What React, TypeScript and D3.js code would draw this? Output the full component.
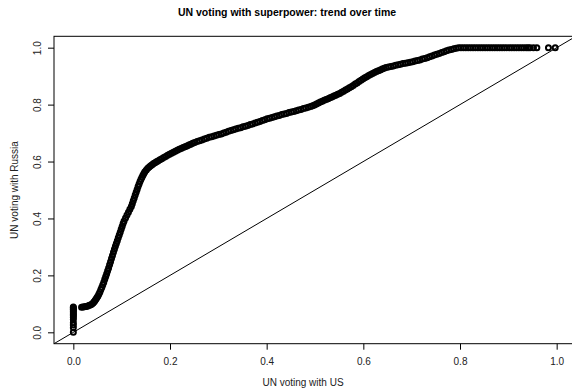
import { useRef, useEffect } from "react";
import * as d3 from "d3";

// share of votes agreeing with each superpower
const zeroUsRussia = [0, 0.016, 0.026, 0.034, 0.045, 0.052, 0.058, 0.063, 0.068, 0.073, 0.078, 0.082, 0.086, 0.089];

const trendPoints: [number, number][] = [
  [0.017, 0.088], [0.02, 0.089], [0.023, 0.09], [0.026, 0.091], [0.029, 0.092], [0.032, 0.094], [0.035, 0.096],
  [0.038, 0.099], [0.041, 0.103], [0.043, 0.107], [0.045, 0.112], [0.047, 0.117], [0.049, 0.122], [0.051, 0.128],
  [0.053, 0.135], [0.055, 0.142], [0.057, 0.15], [0.059, 0.158], [0.061, 0.167], [0.063, 0.176], [0.065, 0.186],
  [0.067, 0.196], [0.069, 0.206], [0.071, 0.216], [0.073, 0.226], [0.075, 0.237], [0.077, 0.248], [0.079, 0.259],
  [0.081, 0.27], [0.083, 0.281], [0.085, 0.292], [0.087, 0.302], [0.089, 0.312], [0.091, 0.322], [0.093, 0.332],
  [0.095, 0.342], [0.097, 0.352], [0.099, 0.362], [0.101, 0.372], [0.103, 0.382], [0.105, 0.391], [0.108, 0.402],
  [0.111, 0.412], [0.114, 0.422], [0.117, 0.432], [0.12, 0.442], [0.122, 0.452], [0.124, 0.462], [0.126, 0.472],
  [0.128, 0.482], [0.13, 0.492], [0.132, 0.502], [0.134, 0.512], [0.136, 0.521], [0.138, 0.53], [0.14, 0.538],
  [0.142, 0.545], [0.144, 0.552], [0.146, 0.558], [0.148, 0.564], [0.151, 0.57], [0.154, 0.576], [0.157, 0.581],
  [0.16, 0.585], [0.163, 0.589], [0.166, 0.593], [0.169, 0.596], [0.172, 0.599], [0.175, 0.602], [0.179, 0.606],
  [0.183, 0.61], [0.187, 0.614], [0.191, 0.618], [0.195, 0.622], [0.199, 0.626], [0.203, 0.629], [0.207, 0.633],
  [0.211, 0.636], [0.215, 0.64], [0.219, 0.643], [0.223, 0.646], [0.227, 0.649], [0.231, 0.652], [0.235, 0.655],
  [0.239, 0.658], [0.243, 0.661], [0.247, 0.664], [0.251, 0.667], [0.256, 0.67], [0.261, 0.673], [0.266, 0.676],
  [0.271, 0.679], [0.276, 0.682], [0.281, 0.685], [0.286, 0.687], [0.291, 0.69], [0.296, 0.692], [0.301, 0.695],
  [0.306, 0.697], [0.311, 0.7], [0.316, 0.703], [0.321, 0.706], [0.326, 0.709], [0.331, 0.712], [0.336, 0.714],
  [0.341, 0.717], [0.346, 0.719], [0.351, 0.722], [0.356, 0.724], [0.361, 0.727], [0.366, 0.73], [0.371, 0.732],
  [0.376, 0.735], [0.381, 0.738], [0.386, 0.741], [0.391, 0.744], [0.396, 0.747], [0.401, 0.75], [0.406, 0.752],
  [0.411, 0.755], [0.416, 0.757], [0.421, 0.76], [0.426, 0.762], [0.431, 0.765], [0.436, 0.767], [0.441, 0.769],
  [0.446, 0.772], [0.451, 0.774], [0.456, 0.776], [0.461, 0.778], [0.466, 0.781], [0.471, 0.783], [0.476, 0.786],
  [0.481, 0.788], [0.486, 0.791], [0.491, 0.793], [0.495, 0.796], [0.499, 0.799], [0.503, 0.802], [0.507, 0.806],
  [0.511, 0.809], [0.515, 0.812], [0.519, 0.815], [0.523, 0.818], [0.527, 0.821], [0.531, 0.824], [0.535, 0.827],
  [0.539, 0.83], [0.543, 0.833], [0.547, 0.836], [0.551, 0.839], [0.555, 0.843], [0.559, 0.847], [0.563, 0.851],
  [0.567, 0.855], [0.571, 0.859], [0.575, 0.863], [0.579, 0.867], [0.583, 0.872], [0.587, 0.876], [0.591, 0.881],
  [0.595, 0.886], [0.599, 0.89], [0.603, 0.894], [0.607, 0.898], [0.611, 0.902], [0.615, 0.906], [0.619, 0.909],
  [0.623, 0.913], [0.627, 0.916], [0.631, 0.919], [0.635, 0.922], [0.639, 0.925], [0.643, 0.928], [0.647, 0.93],
  [0.652, 0.932], [0.657, 0.934], [0.662, 0.936], [0.667, 0.938], [0.672, 0.94], [0.677, 0.942], [0.682, 0.944],
  [0.687, 0.945], [0.692, 0.947], [0.697, 0.949], [0.702, 0.951], [0.707, 0.953], [0.712, 0.955], [0.717, 0.957],
  [0.722, 0.96], [0.727, 0.962], [0.732, 0.965], [0.737, 0.968], [0.742, 0.971], [0.747, 0.974], [0.752, 0.977],
  [0.757, 0.98], [0.762, 0.983], [0.767, 0.986], [0.772, 0.989], [0.777, 0.992], [0.782, 0.994], [0.787, 0.996],
  [0.792, 0.998], [0.797, 1],
];

// countries voting fully with Russia
const plateauUs = [
  0.802, 0.807, 0.812, 0.817, 0.822, 0.827, 0.832, 0.837, 0.842, 0.847, 0.852, 0.857, 0.862, 0.867, 0.872,
  0.877, 0.882, 0.887, 0.892, 0.897, 0.902, 0.907, 0.912, 0.917, 0.922, 0.927, 0.932, 0.937, 0.941, 0.945,
  0.952, 0.959, 0.983, 0.997,
];

const xTicks = [0, 0.2, 0.4, 0.6, 0.8, 1.0];
const yTicks = [0, 0.2, 0.4, 0.6, 0.8, 1.0];

export default function App() {
  const svgRef = useRef<SVGSVGElement>(null);

  useEffect(() => {
    if (!svgRef.current) return;
    const width = 572;
    const height = 390;
    const svg = d3.select(svgRef.current);
    svg.selectAll("*").remove();
    svg.attr("width", width).attr("height", height).attr("viewBox", `0 0 ${width} ${height}`);

    const x = d3.scaleLinear().domain([-0.04, 1.04]).range([54, 576]);
    const y = d3.scaleLinear().domain([-0.04, 1.04]).range([343.7, 36.3]);
    const font = "'Liberation Sans', Arial, Helvetica, sans-serif";

    svg.append("rect").attr("width", width).attr("height", height).attr("fill", "#fff");

    const defs = svg.append("defs");
    defs.append("clipPath").attr("id", "plot-clip")
      .append("rect")
      .attr("x", x(-0.04)).attr("y", y(1.04))
      .attr("width", x(1.04) - x(-0.04)).attr("height", y(-0.04) - y(1.04));

    const points: [number, number][] = [
      ...zeroUsRussia.map((r) => [0, r] as [number, number]),
      ...trendPoints,
      ...plateauUs.map((u) => [u, 1] as [number, number]),
    ];

    const plot = svg.append("g").attr("clip-path", "url(#plot-clip)");

    // reference line y = x
    plot.append("line")
      .attr("x1", x(-0.04)).attr("y1", y(-0.04))
      .attr("x2", x(1.04)).attr("y2", y(1.04))
      .attr("stroke", "#000").attr("stroke-width", 1);

    plot.selectAll(".pt")
      .data(points)
      .join("circle")
      .attr("class", "pt")
      .attr("cx", (d) => x(d[0]))
      .attr("cy", (d) => y(d[1]))
      .attr("r", 2.5)
      .attr("fill", "none")
      .attr("stroke", "#000")
      .attr("stroke-width", 2);

    // box
    svg.append("rect")
      .attr("x", x(-0.04)).attr("y", y(1.04))
      .attr("width", x(1.04) - x(-0.04)).attr("height", y(-0.04) - y(1.04))
      .attr("fill", "none").attr("stroke", "#000").attr("stroke-width", 1);

    // x axis
    const xAxis = svg.append("g")
      .attr("transform", `translate(0,${y(-0.04)})`)
      .call(d3.axisBottom(x).tickValues(xTicks).tickSize(6).tickSizeOuter(0).tickFormat(d3.format(".1f")));
    xAxis.select(".domain").remove();
    xAxis.selectAll("text")
      .attr("y", 21).attr("dy", 0)
      .style("font-family", font).style("font-size", "10px").style("fill", "#222");

    // y axis
    const yAxis = svg.append("g")
      .attr("transform", `translate(${x(-0.04)},0)`)
      .call(d3.axisLeft(y).tickValues(yTicks).tickSize(6).tickSizeOuter(0).tickFormat(d3.format(".1f")));
    yAxis.select(".domain").remove();
    yAxis.selectAll("text")
      .attr("transform", "rotate(-90)")
      .attr("x", 0).attr("y", -13).attr("dy", 0)
      .attr("text-anchor", "middle")
      .style("font-family", font).style("font-size", "10px").style("fill", "#222");

    svg.append("text")
      .attr("x", 287).attr("y", 16)
      .attr("text-anchor", "middle")
      .style("font-family", font).style("font-size", "10.5px").style("font-weight", "bold")
      .text("UN voting with superpower: trend over time");

    svg.append("text")
      .attr("x", 303).attr("y", 386)
      .attr("text-anchor", "middle")
      .style("font-family", font).style("font-size", "10px").style("fill", "#222")
      .text("UN voting with US");

    svg.append("text")
      .attr("transform", `translate(18,${(y(-0.04) + y(1.04)) / 2}) rotate(-90)`)
      .attr("text-anchor", "middle")
      .style("font-family", font).style("font-size", "10px").style("fill", "#222")
      .text("UN voting with Russia");
  }, []);

  return <svg ref={svgRef} style={{ position: "absolute", left: 0, top: 0 }} />;
}
